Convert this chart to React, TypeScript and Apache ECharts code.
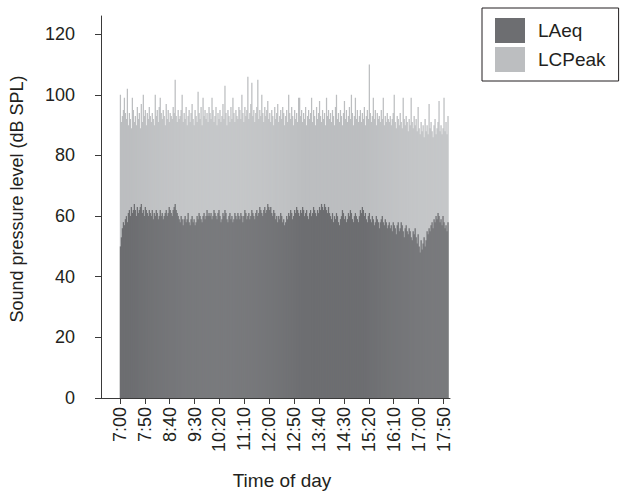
import React, { useEffect, useRef } from "react";
import * as echarts from "echarts";

// LAeq, 2-minute bins, one array per hour (7:00 ... 17:58)
const laeq07 = [50, 53, 56, 58, 57, 59, 60, 58, 61, 62, 60, 63, 61, 62, 64, 62, 60, 63, 61, 62, 63, 64, 61, 62, 60, 63, 62, 61, 60, 62];
const laeq08 = [61, 60, 62, 59, 61, 60, 62, 61, 59, 60, 62, 60, 61, 59, 60, 61, 62, 60, 61, 63, 62, 61, 60, 62, 63, 64, 62, 61, 60, 59];
const laeq09 = [58, 60, 59, 57, 59, 60, 58, 59, 61, 58, 57, 59, 60, 58, 59, 57, 58, 60, 59, 61, 60, 59, 58, 60, 61, 59, 60, 62, 60, 61];
const laeq10 = [60, 61, 59, 60, 62, 61, 60, 59, 61, 62, 60, 58, 59, 61, 60, 62, 61, 59, 58, 60, 61, 59, 60, 58, 59, 61, 60, 59, 61, 60];
const laeq11 = [59, 61, 60, 58, 60, 62, 61, 59, 60, 61, 59, 60, 62, 61, 60, 59, 61, 62, 60, 61, 63, 62, 61, 60, 62, 63, 61, 62, 64, 63];
const laeq12 = [62, 63, 61, 60, 62, 61, 59, 60, 58, 60, 59, 61, 60, 58, 59, 57, 58, 60, 59, 61, 60, 62, 61, 59, 60, 62, 61, 63, 62, 61];
const laeq13 = [60, 62, 61, 63, 62, 60, 61, 62, 60, 59, 61, 62, 60, 61, 63, 62, 61, 60, 62, 61, 63, 62, 64, 63, 62, 64, 63, 62, 61, 63];
const laeq14 = [61, 60, 59, 61, 58, 60, 59, 61, 60, 58, 57, 59, 60, 62, 61, 59, 60, 58, 59, 61, 60, 62, 61, 59, 58, 60, 61, 60, 59, 58];
const laeq15 = [60, 62, 61, 63, 62, 60, 61, 59, 58, 60, 61, 59, 58, 60, 59, 57, 58, 60, 59, 58, 56, 58, 59, 60, 58, 57, 59, 58, 56, 57];
const laeq16 = [58, 56, 57, 55, 58, 57, 56, 54, 57, 58, 55, 56, 58, 57, 55, 53, 56, 57, 55, 54, 56, 55, 53, 52, 55, 54, 56, 53, 51, 54];
const laeq17 = [50, 48, 52, 49, 51, 53, 50, 52, 55, 54, 56, 55, 57, 58, 56, 59, 58, 60, 59, 61, 60, 58, 59, 57, 60, 58, 56, 57, 55, 58];

// LCPeak, 2-minute bins, one array per hour
const peak07 = [100, 91, 93, 95, 99, 94, 92, 102, 90, 94, 92, 89, 99, 95, 91, 93, 90, 96, 92, 94, 89, 97, 91, 100, 93, 95, 90, 94, 92, 96];
const peak08 = [93, 91, 94, 92, 90, 100, 93, 95, 91, 96, 99, 94, 92, 95, 93, 90, 97, 92, 95, 91, 94, 93, 92, 96, 94, 105, 93, 91, 95, 92];
const peak09 = [93, 95, 100, 91, 94, 92, 96, 90, 93, 95, 91, 94, 97, 92, 90, 95, 93, 91, 101, 94, 92, 96, 90, 99, 93, 95, 92, 94, 91, 96];
const peak10 = [94, 92, 99, 95, 91, 93, 96, 90, 94, 92, 95, 91, 93, 97, 92, 103, 94, 90, 95, 93, 91, 96, 92, 99, 94, 91, 95, 93, 92, 96];
const peak11 = [95, 92, 100, 94, 91, 96, 93, 95, 106, 92, 94, 97, 104, 93, 95, 91, 94, 96, 105, 92, 95, 93, 100, 94, 91, 96, 93, 95, 98, 92];
const peak12 = [94, 91, 95, 93, 90, 96, 92, 94, 97, 91, 93, 95, 92, 96, 94, 90, 93, 95, 91, 100, 94, 92, 96, 93, 90, 95, 92, 94, 91, 99];
const peak13 = [99, 93, 95, 91, 94, 92, 96, 90, 93, 95, 92, 94, 99, 91, 95, 93, 90, 96, 92, 94, 98, 93, 91, 95, 92, 94, 90, 99, 93, 95];
const peak14 = [92, 94, 91, 95, 93, 90, 96, 100, 92, 94, 91, 95, 93, 90, 94, 98, 92, 95, 91, 93, 96, 92, 100, 94, 90, 93, 99, 92, 95, 91];
const peak15 = [93, 95, 91, 94, 92, 96, 90, 93, 95, 92, 110, 94, 91, 93, 99, 92, 95, 90, 94, 92, 93, 91, 95, 92, 99, 90, 93, 91, 94, 92];
const peak16 = [91, 93, 90, 92, 94, 100, 91, 89, 93, 92, 90, 94, 91, 89, 99, 92, 90, 93, 91, 88, 92, 90, 99, 91, 89, 93, 90, 92, 88, 96];
const peak17 = [89, 87, 91, 88, 90, 86, 92, 88, 90, 87, 97, 89, 91, 88, 86, 90, 92, 87, 89, 91, 98, 88, 90, 87, 89, 99, 88, 91, 87, 93];

// x tick positions (minutes after 7:00) and their labels
const tickMinutes = [0, 50, 100, 150, 200, 250, 300, 350, 400, 450, 500, 550, 600, 650];
const tickLabels = ["7:00", "7:50", "8:40", "9:30", "10:20", "11:10", "12:00", "12:50", "13:40", "14:30", "15:20", "16:10", "17:00", "17:50"];
const yTicks = [0, 20, 40, 60, 80, 100, 120];

const binMinutes = 2;

const LAEQ = [...laeq07, ...laeq08, ...laeq09, ...laeq10, ...laeq11, ...laeq12, ...laeq13, ...laeq14, ...laeq15, ...laeq16, ...laeq17];
const LCPEAK = [...peak07, ...peak08, ...peak09, ...peak10, ...peak11, ...peak12, ...peak13, ...peak14, ...peak15, ...peak16, ...peak17];

const FONT = "'Liberation Sans', Arial, sans-serif";
const TXT = "#231f20";
const AX = "#3a3a3a";

export default function App() {
  const ref = useRef<HTMLDivElement>(null);
  useEffect(() => {
    if (!ref.current) return;
    const chart = echarts.init(ref.current, null, { renderer: "svg" });
    const toXY = (arr: number[]) => arr.map((v, i) => [i * binMinutes + binMinutes / 2, v]);
    chart.setOption({
      animation: false,
      backgroundColor: "#ffffff",
      grid: { left: 101, top: 16, width: 349, height: 382, containLabel: false },
      legend: {
        orient: "vertical",
        left: 482,
        top: 8,
        padding: [10, 13, 9, 13],
        itemWidth: 30,
        itemHeight: 25,
        itemGap: 4,
        borderColor: TXT,
        borderWidth: 1,
        borderRadius: 0,
        icon: "rect",
        data: ["LAeq", "LCPeak"],
        textStyle: { fontSize: 19, color: TXT, fontFamily: FONT, padding: [0, 0, 0, 8] },
      },
      xAxis: {
        type: "value",
        min: -38,
        max: 663,
        splitLine: { show: false },
        axisLine: { show: true, onZero: false, lineStyle: { color: AX, width: 1 } },
        axisTick: { show: true, length: 6, customValues: tickMinutes, lineStyle: { color: AX, width: 1 } },
        axisLabel: {
          customValues: tickMinutes,
          rotate: 90,
          margin: 9,
          fontSize: 18,
          color: TXT,
          fontFamily: FONT,
          formatter: (v: number) => {
            const idx = tickMinutes.indexOf(Math.round(v));
            return idx >= 0 ? tickLabels[idx] : "";
          },
        },
      },
      yAxis: {
        type: "value",
        min: 0,
        max: 126,
        splitLine: { show: false },
        axisLine: { show: true, onZero: false, lineStyle: { color: AX, width: 1 } },
        axisTick: { show: true, length: 6, customValues: yTicks, lineStyle: { color: AX, width: 1 } },
        axisLabel: { customValues: yTicks, margin: 26, fontSize: 18, color: TXT, fontFamily: FONT },
      },
      series: [
        {
          name: "LCPeak",
          type: "bar",
          data: toXY(LCPEAK),
          barWidth: 1.25,
          barGap: "-100%",
          itemStyle: { color: "#bcbec0" },
          emphasis: { disabled: true },
        },
        {
          name: "LAeq",
          type: "bar",
          data: toXY(LAEQ),
          barWidth: 1.25,
          barGap: "-100%",
          itemStyle: { color: "#6d6e71" },
          emphasis: { disabled: true },
        },
      ],
      graphic: [
        {
          type: "text",
          x: 17,
          y: 199,
          rotation: Math.PI / 2,
          style: {
            text: "Sound pressure level (dB SPL)",
            align: "center",
            verticalAlign: "middle",
            fontSize: 18,
            fill: TXT,
            fontFamily: FONT,
          },
        },
        {
          type: "text",
          x: 282,
          y: 480,
          style: {
            text: "Time of day",
            align: "center",
            verticalAlign: "middle",
            fontSize: 19,
            fill: TXT,
            fontFamily: FONT,
          },
        },
      ],
    });
    return () => chart.dispose();
  }, []);
  return (
    <div
      ref={ref}
      style={{ position: "fixed", left: 0, top: 0, width: 629, height: 499, background: "#fff" }}
    />
  );
}
